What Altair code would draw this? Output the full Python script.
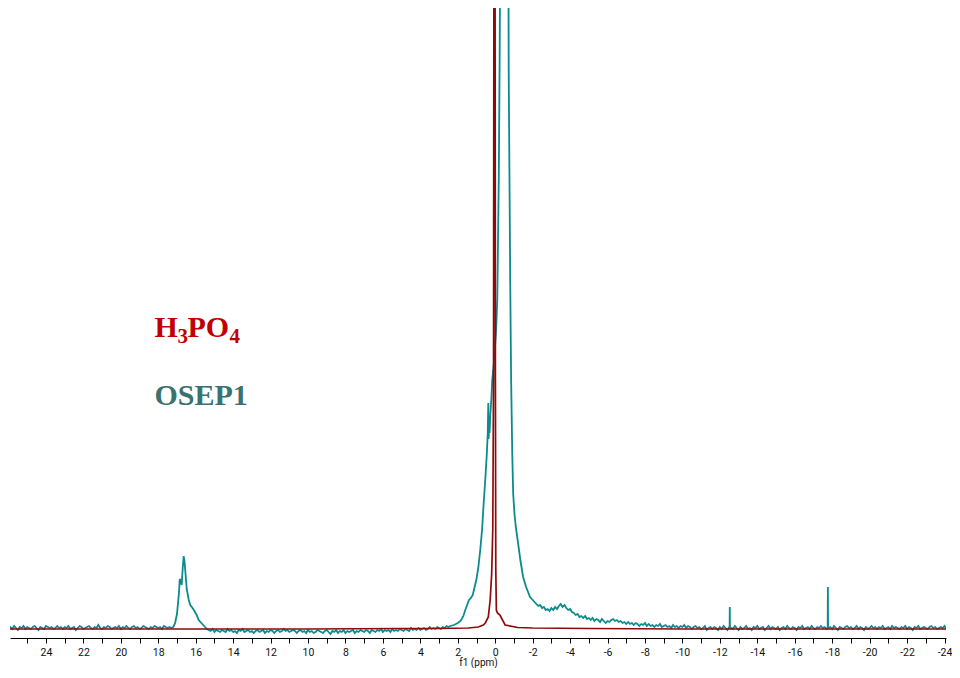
import altair as alt
import pandas as pd

# ---------------- OSEP1 spectrum (teal) ----------------
# baseline noise, 0.1 ppm sampling, 26.0 -> 17.3 ppm
osep_left_start = 26.0
osep_left_noise = [1, 2, 0, 3, 1, -1, 2, 1, 3, 0,
                   2, 1, 0, 2, 3, 1, -1, 2, 1, 0,
                   3, 2, 1, 2, 0, 1, 3, 1, 2, 0,
                   2, 1, 3, 0, 1, 2, -1, 1, 3, 2,
                   0, 1, 2, 3, 1, 0, 2, 1, 4, 1,
                   0, 2, 1, 3, 2, 0, 1, 2, 1, 3,
                   0, 2, 1, 3, 1, 0, 2, 3, 1, 2,
                   0, 1, 3, 2, 1, 0, 2, 1, 3, 2,
                   1, 2, 0, 3, 2, 1, 2, 1]

# peak near 16.6 ppm
osep_peak17_ppm = [17.2, 17.1, 17.0, 16.9, 16.85, 16.8, 16.75, 16.69, 16.64, 16.59, 16.48,
                   16.37, 16.29, 16.21, 16.1, 15.95, 15.84, 15.7, 15.55, 15.4]
osep_peak17_int = [2, 6, 15, 35, 50, 48, 44, 62, 73, 66, 40, 29, 24, 22, 19, 14, 9, 6, 3, 0]

# 15.3 -> 2.5 ppm
osep_mid_start = 15.3
osep_mid_noise = [-1, -2, 0, -3, -1, -2, -3, -1, -2, -3,
                  0, -2, -1, -3, -2, -4, -1, -2, 0, -3,
                  -2, -1, -3, -2, -4, -2, -1, -3, -2, -1,
                  -4, -2, -3, -1, -2, -4, -2, -1, -3, -2,
                  0, -2, -1, -3, -2, -1, -2, -4, -2, -1,
                  -3, -2, -4, -1, -3, -2, -4, -3, -1, -2,
                  -3, -4, -2, -1, -3, -5, -2, -3, -1, -4,
                  -2, -3, -1, -4, -2, -3, -2, -1, -4, -2,
                  -3, -1, -2, -3, -1, -2, -4, -1, -2, -3,
                  -1, -2, 0, -3, -1, -2, -1, -3, 0, -2,
                  -1, -2, 0, -1, -2, 0, -1, -2, 1, -1,
                  0, -1, 1, -1, 0, 1, -1, 0, 2, 0,
                  1, 0, 2, 1, 0, 2, 1, 3, 2]

# main peak region
osep_main_ppm = [2.4, 2.2, 2.0, 1.85, 1.7, 1.6, 1.5, 1.4, 1.3, 1.2, 1.1, 1.0, 0.9, 0.8, 0.7,
                 0.64, 0.53, 0.45, 0.40, 0.37, 0.355, 0.33, 0.30, 0.27, 0.2, 0.16, 0.05,
                 -0.05, -0.11, -0.19, -0.24, -0.27, -0.30, -0.48, -0.66, -0.70, -0.72, -0.80,
                 -0.85, -0.91, -0.96, -1.03, -1.1, -1.22, -1.35, -1.49, -1.65, -1.86, -2.05]
osep_main_int = [3, 4, 6, 8, 13, 19, 24, 29, 31, 34, 42, 50, 62, 79, 100,
                 119, 150, 175, 195, 226, 190, 200, 196, 212, 232, 249, 270,
                 300, 330, 450, 580, 700, 1000, 5000, 1000, 700, 560, 350,
                 249, 175, 135, 115, 102, 86, 68, 52, 42, 32, 28]

# decaying tail -2.2 -> -10.8 ppm
osep_tail_start = -2.2
osep_tail_int = [25, 23, 24, 21, 22, 19, 20, 18, 21, 19,
                 22, 20, 23, 25, 22, 24, 21, 19, 20, 17,
                 16, 14, 15, 12, 13, 11, 13, 10, 11, 9,
                 11, 8, 10, 9, 7, 10, 8, 6, 8, 7,
                 9, 10, 8, 9, 7, 8, 6, 7, 5, 7,
                 5, 6, 4, 6, 5, 3, 5, 4, 6, 3,
                 5, 3, 4, 2, 4, 3, 5, 2, 3, 4,
                 2, 3, 1, 4, 2, 3, 1, 3, 2, 4,
                 1, 3, 2, 0, 2, 3, 1]

# -10.9 -> -24.2 ppm
osep_right_start = -10.9
osep_right_noise = [2, 0, 1, 3, -1, 1, 2, 0, 2, 1,
                    -1, 2, 0, 3, 1, -1, 2, 1, 0, 3,
                    1, -1, 2, 0, 1, 3, 0, 1, -1, 2,
                    1, 3, 0, 1, 2, -1, 1, 3, 0, 2,
                    1, 0, 2, -1, 1, 2, 0, 3, 1, 0,
                    2, 1, -1, 2, 1, 3, 0, 1, 2, 0,
                    3, 1, 0, 2, 1, 3, 1, 2, 0, 1,
                    2, 0, 3, 1, -1, 2, 1, 0, 2, 3,
                    1, 2, 0, 1, 3, 0, 2, 1, -1, 2,
                    0, 1, 3, 1, 2, 0, 2, 1, 3, 0,
                    1, 2, 0, 3, 1, 2, 1, 0, 2, 1,
                    3, 0, 2, 1, -1, 2, 1, 3, 0, 1,
                    2, 1, 0, 2, 3, 1, 2, 0, 1, 2,
                    1, 3, 0, 2]

# narrow spikes
spike_ppm = [-12.52, -12.53, -12.54, -17.76, -17.77, -17.78]
spike_int = [1, 22, 1, 1, 42, 1]

# ---------------- H3PO4 reference (dark red) ----------------
h3po4_ppm = [26.0, 20.0, 10.0, 5.0, 3.0, 1.44, 0.9, 0.64, 0.53, 0.37, 0.27, 0.19, 0.13, 0.09,
             0.064, 0.04, 0.015, -0.01, -0.03, -0.06, -0.12, -0.25, -0.53, -1.2, -2.0,
             -5.0, -10.0, -24.2]
h3po4_int = [0, 0, 0, 0.5, 0.5, 1, 2, 4, 6, 12, 29, 55, 100, 250,
             800, 5000, 800, 250, 60, 19, 16, 14, 4, 1.5, 1,
             0.5, 0, 0]

# ---------------- labels ----------------
label_parts = [  # text, font size, colour, x shift (px), y shift (px)
    ("H", 30, "#C00000", 0, 0),
    ("3", 21, "#C00000", 23, 6),
    ("PO", 30, "#C00000", 33, 0),
    ("4", 21, "#C00000", 75, 6),
    ("OSEP1", 30, "#3A7272", 0, 0),
]
label_anchor_ppm = [18.2, 18.2, 18.2, 18.2, 18.2]
label_anchor_int = [292, 292, 292, 292, 224]


def sampled(start, values, step=0.1):
    return [round(start - step * i, 3) for i in range(len(values))], list(values)


rows = []
for ppm_list, int_list in [
    sampled(osep_left_start, osep_left_noise),
    (osep_peak17_ppm, osep_peak17_int),
    sampled(osep_mid_start, osep_mid_noise),
    (osep_main_ppm, osep_main_int),
    sampled(osep_tail_start, osep_tail_int),
    sampled(osep_right_start, osep_right_noise),
    (spike_ppm, spike_int),
]:
    rows += list(zip(ppm_list, int_list))

osep = pd.DataFrame(rows, columns=["ppm", "inten"]).sort_values("ppm", ascending=False)
h3po4 = pd.DataFrame({"ppm": h3po4_ppm, "inten": h3po4_int})

x_scale = alt.Scale(domain=[25.92, -24.08], nice=False, zero=False)
y_scale = alt.Scale(domain=[-9, 621], nice=False, zero=False)

x_axis = alt.Axis(
    values=list(range(-24, 26)),
    labelExpr="datum.value % 2 == 0 ? '' + datum.value : ''",
    tickSize=5,
    tickColor="black", domainColor="black", tickWidth=1, domainWidth=1,
    labelFont="Roboto", labelFontSize=10.5, labelColor="#111111", labelPadding=4,
    labelOverlap=False, labelFlush=False, grid=False,
    title="f1 (ppm)", titleFont="Roboto", titleFontSize=10,
    titleFontWeight="normal", titleColor="#111111", titlePadding=0,
)
X = alt.X("ppm:Q", scale=x_scale, axis=x_axis)
Y = alt.Y("inten:Q", scale=y_scale, axis=None)

teal = alt.Chart(osep).mark_line(color="#0B8B8B", strokeWidth=1.8, clip=True).encode(
    x=X, y=Y, order=alt.Order("ppm:Q", sort="descending"),
)

red = alt.Chart(h3po4).mark_line(color="#8E0A0A", strokeWidth=1.7, clip=True).encode(
    x=X, y=Y, order=alt.Order("ppm:Q", sort="descending"),
)

text_layers = []
for (txt, size, col, dxp, dyp), p, v in zip(label_parts, label_anchor_ppm, label_anchor_int):
    df = pd.DataFrame({"ppm": [p], "inten": [v], "label": [txt]})
    text_layers.append(
        alt.Chart(df).mark_text(
            font="Liberation Serif", fontSize=size, fontWeight="bold", color=col,
            align="left", baseline="alphabetic", dx=dxp, dy=dyp,
        ).encode(x=X, y=Y, text="label:N")
    )

chart = alt.layer(teal, red, *text_layers).properties(
    width=936, height=630,
    padding={"left": 2, "top": 0, "right": 0, "bottom": 0},
    background="white",
).configure_view(stroke=None)

chart.save("out.html", embed_options={"renderer": "svg", "actions": False})
